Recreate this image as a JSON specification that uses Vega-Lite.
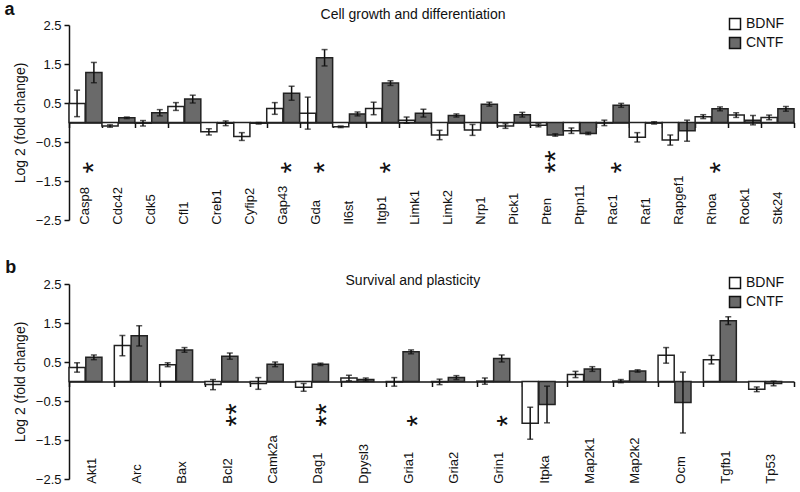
{
  "$schema": "https://vega.github.io/schema/vega-lite/v6.json",
  "padding": {"left": 4, "top": 1, "right": 4, "bottom": 4},
  "background": "white",
  "config": {
    "font": "Liberation Sans",
    "view": {"stroke": null},
    "axis": {"labelFont": "Liberation Sans", "titleFont": "Liberation Sans", "labelColor": "#111", "titleColor": "#111", "grid": false},
    "legend": {"labelFont": "Liberation Sans"}
  },
  "datasets": {
    "a": [
      {"gene": "Casp8", "t": "BDNF", "v": 0.49, "lo": 0.15, "hi": 0.83},
      {"gene": "Casp8", "t": "CNTF", "v": 1.28, "lo": 1.02, "hi": 1.54},
      {"gene": "Cdc42", "t": "BDNF", "v": -0.09, "lo": -0.12, "hi": -0.06},
      {"gene": "Cdc42", "t": "CNTF", "v": 0.12, "lo": 0.10, "hi": 0.14},
      {"gene": "Cdk5", "t": "BDNF", "v": -0.02, "lo": -0.09, "hi": 0.05},
      {"gene": "Cdk5", "t": "CNTF", "v": 0.25, "lo": 0.17, "hi": 0.33},
      {"gene": "Cfl1", "t": "BDNF", "v": 0.41, "lo": 0.31, "hi": 0.51},
      {"gene": "Cfl1", "t": "CNTF", "v": 0.60, "lo": 0.50, "hi": 0.70},
      {"gene": "Creb1", "t": "BDNF", "v": -0.24, "lo": -0.32, "hi": -0.16},
      {"gene": "Creb1", "t": "CNTF", "v": -0.02, "lo": -0.08, "hi": 0.04},
      {"gene": "Cyfip2", "t": "BDNF", "v": -0.36, "lo": -0.46, "hi": -0.26},
      {"gene": "Cyfip2", "t": "CNTF", "v": -0.02, "lo": -0.04, "hi": 0.00},
      {"gene": "Gap43", "t": "BDNF", "v": 0.36, "lo": 0.21, "hi": 0.51},
      {"gene": "Gap43", "t": "CNTF", "v": 0.75, "lo": 0.57, "hi": 0.93},
      {"gene": "Gda", "t": "BDNF", "v": 0.24, "lo": -0.17, "hi": 0.65},
      {"gene": "Gda", "t": "CNTF", "v": 1.66, "lo": 1.45, "hi": 1.87},
      {"gene": "Il6st", "t": "BDNF", "v": -0.11, "lo": -0.13, "hi": -0.09},
      {"gene": "Il6st", "t": "CNTF", "v": 0.22, "lo": 0.17, "hi": 0.27},
      {"gene": "Itgb1", "t": "BDNF", "v": 0.36, "lo": 0.20, "hi": 0.52},
      {"gene": "Itgb1", "t": "CNTF", "v": 1.01, "lo": 0.95, "hi": 1.07},
      {"gene": "Limk1", "t": "BDNF", "v": 0.06, "lo": -0.02, "hi": 0.14},
      {"gene": "Limk1", "t": "CNTF", "v": 0.24, "lo": 0.14, "hi": 0.34},
      {"gene": "Limk2", "t": "BDNF", "v": -0.32, "lo": -0.44, "hi": -0.20},
      {"gene": "Limk2", "t": "CNTF", "v": 0.18, "lo": 0.14, "hi": 0.22},
      {"gene": "Nrp1", "t": "BDNF", "v": -0.19, "lo": -0.33, "hi": -0.05},
      {"gene": "Nrp1", "t": "CNTF", "v": 0.47, "lo": 0.42, "hi": 0.52},
      {"gene": "Pick1", "t": "BDNF", "v": -0.09, "lo": -0.15, "hi": -0.03},
      {"gene": "Pick1", "t": "CNTF", "v": 0.20, "lo": 0.14, "hi": 0.26},
      {"gene": "Pten", "t": "BDNF", "v": -0.07, "lo": -0.11, "hi": -0.03},
      {"gene": "Pten", "t": "CNTF", "v": -0.32, "lo": -0.35, "hi": -0.29},
      {"gene": "Ptpn11", "t": "BDNF", "v": -0.21, "lo": -0.28, "hi": -0.14},
      {"gene": "Ptpn11", "t": "CNTF", "v": -0.28, "lo": -0.31, "hi": -0.25},
      {"gene": "Rac1", "t": "BDNF", "v": -0.01, "lo": -0.08, "hi": 0.06},
      {"gene": "Rac1", "t": "CNTF", "v": 0.44, "lo": 0.39, "hi": 0.49},
      {"gene": "Raf1", "t": "BDNF", "v": -0.38, "lo": -0.50, "hi": -0.26},
      {"gene": "Raf1", "t": "CNTF", "v": -0.01, "lo": -0.04, "hi": 0.02},
      {"gene": "Rapgef1", "t": "BDNF", "v": -0.45, "lo": -0.58, "hi": -0.32},
      {"gene": "Rapgef1", "t": "CNTF", "v": -0.21, "lo": -0.48, "hi": 0.06},
      {"gene": "Rhoa", "t": "BDNF", "v": 0.15, "lo": 0.10, "hi": 0.20},
      {"gene": "Rhoa", "t": "CNTF", "v": 0.35, "lo": 0.30, "hi": 0.40},
      {"gene": "Rock1", "t": "BDNF", "v": 0.19, "lo": 0.13, "hi": 0.25},
      {"gene": "Rock1", "t": "CNTF", "v": 0.06, "lo": -0.06, "hi": 0.18},
      {"gene": "Stk24", "t": "BDNF", "v": 0.13, "lo": 0.07, "hi": 0.19},
      {"gene": "Stk24", "t": "CNTF", "v": 0.35, "lo": 0.29, "hi": 0.41}
    ],
    "b": [
      {"gene": "Akt1", "t": "BDNF", "v": 0.36, "lo": 0.24, "hi": 0.48},
      {"gene": "Akt1", "t": "CNTF", "v": 0.62, "lo": 0.56, "hi": 0.68},
      {"gene": "Arc", "t": "BDNF", "v": 0.92, "lo": 0.66, "hi": 1.18},
      {"gene": "Arc", "t": "CNTF", "v": 1.17, "lo": 0.91, "hi": 1.43},
      {"gene": "Bax", "t": "BDNF", "v": 0.43, "lo": 0.38, "hi": 0.48},
      {"gene": "Bax", "t": "CNTF", "v": 0.81, "lo": 0.75, "hi": 0.87},
      {"gene": "Bcl2", "t": "BDNF", "v": -0.08, "lo": -0.21, "hi": 0.05},
      {"gene": "Bcl2", "t": "CNTF", "v": 0.65, "lo": 0.57, "hi": 0.73},
      {"gene": "Camk2a", "t": "BDNF", "v": -0.05, "lo": -0.20, "hi": 0.10},
      {"gene": "Camk2a", "t": "CNTF", "v": 0.44, "lo": 0.38, "hi": 0.50},
      {"gene": "Dag1", "t": "BDNF", "v": -0.15, "lo": -0.25, "hi": -0.05},
      {"gene": "Dag1", "t": "CNTF", "v": 0.44, "lo": 0.41, "hi": 0.47},
      {"gene": "Dpysl3", "t": "BDNF", "v": 0.09, "lo": 0.02, "hi": 0.16},
      {"gene": "Dpysl3", "t": "CNTF", "v": 0.05, "lo": 0.01, "hi": 0.09},
      {"gene": "Gria1", "t": "BDNF", "v": -0.01, "lo": -0.12, "hi": 0.10},
      {"gene": "Gria1", "t": "CNTF", "v": 0.76, "lo": 0.71, "hi": 0.81},
      {"gene": "Gria2", "t": "BDNF", "v": -0.01, "lo": -0.08, "hi": 0.06},
      {"gene": "Gria2", "t": "CNTF", "v": 0.10, "lo": 0.05, "hi": 0.15},
      {"gene": "Grin1", "t": "BDNF", "v": 0.01, "lo": -0.07, "hi": 0.09},
      {"gene": "Grin1", "t": "CNTF", "v": 0.59, "lo": 0.50, "hi": 0.68},
      {"gene": "Itpka", "t": "BDNF", "v": -1.07, "lo": -1.48, "hi": -0.66},
      {"gene": "Itpka", "t": "CNTF", "v": -0.59, "lo": -1.06, "hi": -0.12},
      {"gene": "Map2k1", "t": "BDNF", "v": 0.18, "lo": 0.10, "hi": 0.26},
      {"gene": "Map2k1", "t": "CNTF", "v": 0.32, "lo": 0.26, "hi": 0.38},
      {"gene": "Map2k2", "t": "BDNF", "v": 0.01, "lo": -0.03, "hi": 0.05},
      {"gene": "Map2k2", "t": "CNTF", "v": 0.27, "lo": 0.24, "hi": 0.30},
      {"gene": "Ocm", "t": "BDNF", "v": 0.67, "lo": 0.47, "hi": 0.87},
      {"gene": "Ocm", "t": "CNTF", "v": -0.54, "lo": -1.32, "hi": 0.24},
      {"gene": "Tgfb1", "t": "BDNF", "v": 0.56, "lo": 0.45, "hi": 0.67},
      {"gene": "Tgfb1", "t": "CNTF", "v": 1.56, "lo": 1.46, "hi": 1.66},
      {"gene": "Tp53", "t": "BDNF", "v": -0.20, "lo": -0.26, "hi": -0.14},
      {"gene": "Tp53", "t": "CNTF", "v": -0.05, "lo": -0.11, "hi": 0.01}
    ],
    "sa": [
      {"gene": "Casp8", "s": "*"},
      {"gene": "Gap43", "s": "*"},
      {"gene": "Gda", "s": "*"},
      {"gene": "Itgb1", "s": "*"},
      {"gene": "Pten", "s": "**"},
      {"gene": "Rac1", "s": "*"},
      {"gene": "Rhoa", "s": "*"}
    ],
    "sb": [
      {"gene": "Bcl2", "s": "**"},
      {"gene": "Dag1", "s": "**"},
      {"gene": "Gria1", "s": "*"},
      {"gene": "Grin1", "s": "*"}
    ],
    "one": [{"k": 1}]
  },
  "spacing": 64,
  "bounds": "flush",
  "resolve": {"scale": {"fill": "independent", "x": "independent", "y": "independent"}, "legend": {"fill": "independent"}},
  "vconcat": [
    {
      "width": 725,
      "height": 195,
      "data": {"name": "a"},
      "layer": [
        {
          "mark": {"type": "bar", "stroke": "#222", "strokeWidth": 1.5},
          "encoding": {
            "x": {"field": "gene", "type": "nominal", "title": null,
              "scale": {"domain": ["Casp8","Cdc42","Cdk5","Cfl1","Creb1","Cyfip2","Gap43","Gda","Il6st","Itgb1","Limk1","Limk2","Nrp1","Pick1","Pten","Ptpn11","Rac1","Raf1","Rapgef1","Rhoa","Rock1","Stk24"], "paddingInner": 0, "paddingOuter": 0},
              "axis": {"orient": "bottom", "offset": -97.5, "labels": false, "domain": true, "domainColor": "#111", "domainWidth": 1.5, "ticks": true, "tickBand": "extent", "tickSize": 5, "tickColor": "#111", "tickWidth": 1.5, "title": null}},
            "xOffset": {"field": "t", "type": "nominal", "scale": {"paddingInner": 0.04}},
            "y": {"field": "v", "type": "quantitative", "title": "Log 2 (fold change)",
              "scale": {"domain": [-2.5, 2.5], "nice": false, "zero": false},
              "axis": {"values": [-2.5, -1.5, -0.5, 0.5, 1.5, 2.5], "tickCount": 12, "labelOverlap": false, "format": ".1f", "domainColor": "#111", "domainWidth": 1.5, "tickColor": "#111", "tickWidth": 1.5, "tickSize": 5, "labelPadding": 3, "labelFontSize": 13, "titleFontSize": 14, "titleFontWeight": "normal", "titlePadding": 8}},
            "fill": {"field": "t", "type": "nominal", "scale": {"domain": ["BDNF", "CNTF"], "range": ["#ffffff", "#6a6a6a"]},
              "legend": {"orient": "none", "legendX": 659, "legendY": -8, "title": null, "symbolType": "square", "symbolSize": 121, "symbolStrokeColor": "#111", "symbolStrokeWidth": 1.5, "labelFontSize": 14, "labelColor": "#111", "labelOffset": 4, "rowPadding": 1}}
          }
        },
        {
          "mark": {"type": "rule", "color": "#111", "strokeWidth": 1.5},
          "encoding": {
            "x": {"field": "gene", "type": "nominal", "title": null},
            "xOffset": {"field": "t", "type": "nominal"},
            "y": {"field": "lo", "type": "quantitative", "title": "Log 2 (fold change)"},
            "y2": {"field": "hi"}
          }
        },
        {
          "mark": {"type": "tick", "color": "#111", "thickness": 1.5, "size": 6, "orient": "horizontal"},
          "encoding": {
            "x": {"field": "gene", "type": "nominal", "title": null},
            "xOffset": {"field": "t", "type": "nominal"},
            "y": {"field": "lo", "type": "quantitative", "title": "Log 2 (fold change)"}
          }
        },
        {
          "mark": {"type": "tick", "color": "#111", "thickness": 1.5, "size": 6, "orient": "horizontal"},
          "encoding": {
            "x": {"field": "gene", "type": "nominal", "title": null},
            "xOffset": {"field": "t", "type": "nominal"},
            "y": {"field": "hi", "type": "quantitative", "title": "Log 2 (fold change)"}
          }
        },
        {
          "transform": [{"filter": "datum.t == 'BDNF'"}],
          "mark": {"type": "text", "angle": 270, "align": "left", "baseline": "middle", "fontSize": 13, "color": "#111"},
          "encoding": {
            "x": {"field": "gene", "type": "nominal", "title": null},
            "y": {"datum": -2.62},
            "text": {"field": "gene"}
          }
        },
        {
          "data": {"name": "sa"},
          "mark": {"type": "text", "angle": 270, "align": "left", "baseline": "middle", "fontSize": 30, "dy": 9, "color": "#111"},
          "encoding": {
            "x": {"field": "gene", "type": "nominal", "title": null},
            "y": {"datum": -1.31},
            "text": {"field": "s"}
          }
        },
        {
          "data": {"name": "one"},
          "mark": {"type": "text", "text": "a", "fontWeight": "bold", "fontSize": 18, "dx": -76, "dy": -15, "align": "center", "baseline": "middle", "color": "#111"},
          "encoding": {
            "x": {"datum": "Casp8"},
            "y": {"datum": 2.5}
          }
        },
        {
          "data": {"name": "one"},
          "mark": {"type": "text", "text": "Cell growth and differentiation", "fontSize": 14, "dx": -2, "dy": -10, "align": "center", "baseline": "middle", "color": "#111"},
          "encoding": {
            "x": {"datum": "Limk1"},
            "y": {"datum": 2.5}
          }
        }
      ]
    },
    {
      "width": 725,
      "height": 195,
      "data": {"name": "b"},
      "layer": [
        {
          "mark": {"type": "bar", "stroke": "#222", "strokeWidth": 1.5},
          "encoding": {
            "x": {"field": "gene", "type": "nominal", "title": null,
              "scale": {"domain": ["Akt1","Arc","Bax","Bcl2","Camk2a","Dag1","Dpysl3","Gria1","Gria2","Grin1","Itpka","Map2k1","Map2k2","Ocm","Tgfb1","Tp53"], "paddingInner": 0, "paddingOuter": 0},
              "axis": {"orient": "bottom", "offset": -97.5, "labels": false, "domain": true, "domainColor": "#111", "domainWidth": 1.5, "ticks": true, "tickBand": "extent", "tickSize": 5, "tickColor": "#111", "tickWidth": 1.5, "title": null}},
            "xOffset": {"field": "t", "type": "nominal", "scale": {"paddingInner": 0.04}},
            "y": {"field": "v", "type": "quantitative", "title": "Log 2 (fold change)",
              "scale": {"domain": [-2.5, 2.5], "nice": false, "zero": false},
              "axis": {"values": [-2.5, -1.5, -0.5, 0.5, 1.5, 2.5], "tickCount": 12, "labelOverlap": false, "format": ".1f", "domainColor": "#111", "domainWidth": 1.5, "tickColor": "#111", "tickWidth": 1.5, "tickSize": 5, "labelPadding": 3, "labelFontSize": 13, "titleFontSize": 14, "titleFontWeight": "normal", "titlePadding": 8}},
            "fill": {"field": "t", "type": "nominal", "scale": {"domain": ["BDNF", "CNTF"], "range": ["#ffffff", "#6a6a6a"]},
              "legend": {"orient": "none", "legendX": 659, "legendY": -8, "title": null, "symbolType": "square", "symbolSize": 121, "symbolStrokeColor": "#111", "symbolStrokeWidth": 1.5, "labelFontSize": 14, "labelColor": "#111", "labelOffset": 4, "rowPadding": 1}}
          }
        },
        {
          "mark": {"type": "rule", "color": "#111", "strokeWidth": 1.5},
          "encoding": {
            "x": {"field": "gene", "type": "nominal", "title": null},
            "xOffset": {"field": "t", "type": "nominal"},
            "y": {"field": "lo", "type": "quantitative", "title": "Log 2 (fold change)"},
            "y2": {"field": "hi"}
          }
        },
        {
          "mark": {"type": "tick", "color": "#111", "thickness": 1.5, "size": 6, "orient": "horizontal"},
          "encoding": {
            "x": {"field": "gene", "type": "nominal", "title": null},
            "xOffset": {"field": "t", "type": "nominal"},
            "y": {"field": "lo", "type": "quantitative", "title": "Log 2 (fold change)"}
          }
        },
        {
          "mark": {"type": "tick", "color": "#111", "thickness": 1.5, "size": 6, "orient": "horizontal"},
          "encoding": {
            "x": {"field": "gene", "type": "nominal", "title": null},
            "xOffset": {"field": "t", "type": "nominal"},
            "y": {"field": "hi", "type": "quantitative", "title": "Log 2 (fold change)"}
          }
        },
        {
          "transform": [{"filter": "datum.t == 'BDNF'"}],
          "mark": {"type": "text", "angle": 270, "align": "left", "baseline": "middle", "fontSize": 13, "color": "#111"},
          "encoding": {
            "x": {"field": "gene", "type": "nominal", "title": null},
            "y": {"datum": -2.62},
            "text": {"field": "gene"}
          }
        },
        {
          "data": {"name": "sb"},
          "mark": {"type": "text", "angle": 270, "align": "left", "baseline": "middle", "fontSize": 30, "dy": 9, "color": "#111"},
          "encoding": {
            "x": {"field": "gene", "type": "nominal", "title": null},
            "y": {"datum": -1.16},
            "text": {"field": "s"}
          }
        },
        {
          "data": {"name": "one"},
          "mark": {"type": "text", "text": "b", "fontWeight": "bold", "fontSize": 18, "dx": -81, "dy": -16, "align": "center", "baseline": "middle", "color": "#111"},
          "encoding": {
            "x": {"datum": "Akt1"},
            "y": {"datum": 2.5}
          }
        },
        {
          "data": {"name": "one"},
          "mark": {"type": "text", "text": "Survival and plasticity", "fontSize": 14, "dx": 4, "dy": -3, "align": "center", "baseline": "middle", "color": "#111"},
          "encoding": {
            "x": {"datum": "Gria1"},
            "y": {"datum": 2.5}
          }
        }
      ]
    }
  ]
}
